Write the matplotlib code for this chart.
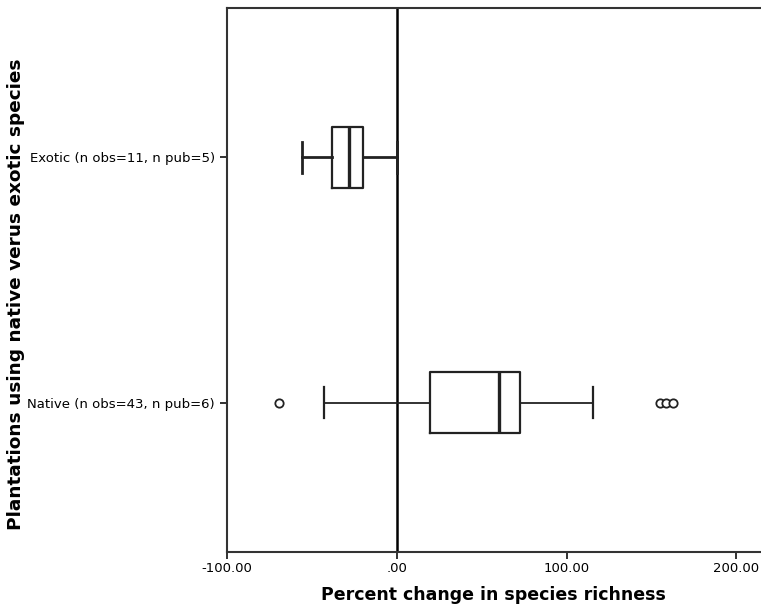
import matplotlib
matplotlib.use("Agg")
import matplotlib.pyplot as plt

# Group labels (bottom to top) and box statistics
groups = ["Native (n obs=43, n pub=6)", "Exotic (n obs=11, n pub=5)"]
whisker_low = [-42.5, -56.0]
q1 = [19.5, -38.0]
median = [60.0, -28.3]
q3 = [72.5, -20.0]
whisker_high = [115.5, 0.5]
outliers = [[-69.5, 155.0, 158.3, 162.6], []]

xticks = [-100, 0, 100, 200]
xtick_labels = ["-100.00", ".00", "100.00", "200.00"]

stats = []
for i, name in enumerate(groups):
    stats.append({
        "label": name,
        "whislo": whisker_low[i],
        "q1": q1[i],
        "med": median[i],
        "q3": q3[i],
        "whishi": whisker_high[i],
        "fliers": outliers[i],
    })

fig = plt.figure(figsize=(7.61, 6.10), dpi=100)
ax = fig.add_axes([0.298, 0.095, 0.702, 0.892])

line_col = "#222222"
parts = ax.bxp(stats, positions=[1, 2], widths=0.25, vert=False,
               boxprops=dict(color=line_col, linewidth=1.6),
               medianprops=dict(color=line_col, linewidth=2.4),
               whiskerprops=dict(color=line_col, linewidth=1.3),
               capprops=dict(color=line_col, linewidth=1.6),
               flierprops=dict(marker="o", markersize=6, markerfacecolor="white",
                               markeredgecolor=line_col, markeredgewidth=1.3))

# exotic group is drawn with heavier whiskers in the original
for ln in parts["whiskers"][2:] + parts["caps"][2:]:
    ln.set_linewidth(2.0)

# reference line at zero
ax.axvline(0, color="black", linewidth=1.8, zorder=0)

ax.set_xlim(-100, 214.5)
ax.set_ylim(0.39, 2.61)
ax.set_xticks(xticks)
ax.set_xticklabels(xtick_labels, fontsize=9.5)
ax.tick_params(axis="y", labelsize=9.5, length=5, width=1.3, color=line_col)
ax.tick_params(axis="x", length=5, width=1.3, color=line_col, pad=2)

for side in ["left", "bottom", "top"]:
    ax.spines[side].set_color("#333333")
    ax.spines[side].set_linewidth(1.5)
ax.spines["right"].set_visible(False)

ax.set_xlabel("Percent change in species richness", fontsize=12.5,
              fontweight="bold", labelpad=8)
fig.text(0.021, 0.518, "Plantations using native verus exotic species",
         rotation=90, fontsize=13.3, fontweight="bold", ha="center", va="center")

fig.savefig("out.png", dpi=100)
